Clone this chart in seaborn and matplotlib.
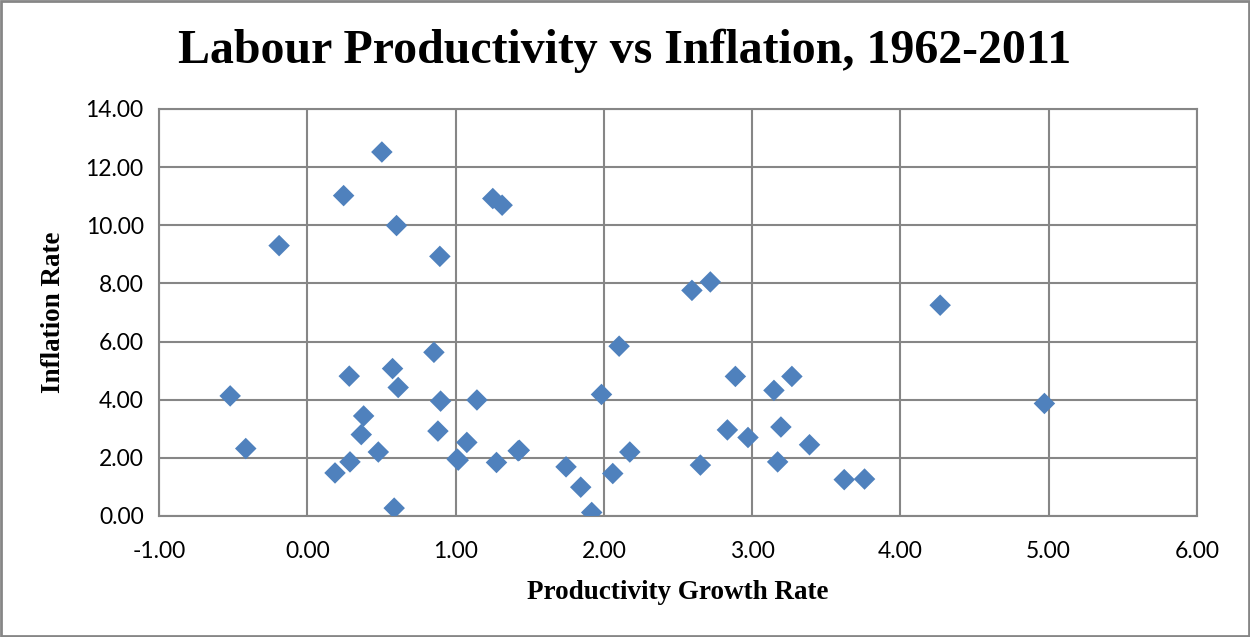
import pandas as pd
import matplotlib
matplotlib.use("Agg")
import matplotlib.pyplot as plt
import seaborn as sns

# productivity growth rate vs inflation rate
productivity = [-0.52, -0.415, -0.19, 0.503, 0.245, 0.602, 0.894, 0.854, 0.575, 0.283,
                0.613, 0.899, 1.144, 0.38, 0.881, 0.364, 1.076, 0.479, 1.018, 1.01,
                0.288, 0.187, 0.586, 1.251, 1.314, 1.276, 1.422, 1.43, 1.745, 1.844,
                1.918, 1.984, 2.103, 2.06, 2.175, 2.594, 2.718, 2.651, 2.887, 2.833,
                2.972, 3.147, 3.268, 3.194, 3.387, 3.172, 3.621, 3.758, 4.268, 4.971]
inflation = [4.13, 2.32, 9.30, 12.52, 11.02, 9.99, 8.93, 5.63, 5.07, 4.81,
             4.42, 3.95, 3.99, 3.44, 2.92, 2.80, 2.53, 2.20, 1.92, 1.96,
             1.86, 1.48, 0.27, 10.92, 10.69, 1.84, 2.24, 2.26, 1.69, 0.99,
             0.12, 4.18, 5.84, 1.46, 2.20, 7.76, 8.05, 1.75, 4.80, 2.96,
             2.70, 4.32, 4.80, 3.06, 2.45, 1.86, 1.25, 1.27, 7.25, 3.87]

x_ticks = [-1, 0, 1, 2, 3, 4, 5, 6]
y_ticks = [0, 2, 4, 6, 8, 10, 12, 14]

df = pd.DataFrame({"Productivity": productivity, "Inflation": inflation})

sns.set_style("white")
plt.rcParams["text.color"] = "black"
plt.rcParams["axes.labelcolor"] = "black"
plt.rcParams["xtick.color"] = "black"
plt.rcParams["ytick.color"] = "black"
grid_col = "#868686"

fig = plt.figure(figsize=(12.5, 6.37), dpi=100)
ax = fig.add_axes([0.1272, 0.19, 0.8304, 0.6389])

sns.scatterplot(data=df, x="Productivity", y="Inflation", ax=ax, marker="D",
                s=120, color="#4F81BD", edgecolor="none", zorder=3, legend=False)

ax.set_xlim(-1, 6)
ax.set_ylim(0, 14)
ax.set_xticks(x_ticks)
ax.set_yticks(y_ticks)
ax.set_xticklabels([f"{v:.2f}" for v in x_ticks], fontfamily="Lato", fontsize=16.5)
ax.set_yticklabels([f"{v:.2f}" for v in y_ticks], fontfamily="Lato", fontsize=16.5)
ax.tick_params(axis="x", length=0, pad=18)
ax.tick_params(axis="y", length=0, pad=11)

ax.grid(True, color=grid_col, linewidth=1.5)
ax.set_axisbelow(True)
for sp in ax.spines.values():
    sp.set_color(grid_col)
    sp.set_linewidth(1.5)

ax.set_xlabel("Productivity Growth Rate", fontfamily="Liberation Serif",
              fontweight="bold", fontsize=19.5, labelpad=13)
ax.set_ylabel("Inflation Rate", fontfamily="Liberation Serif",
              fontweight="bold", fontsize=19.5, labelpad=14)

fig.suptitle("Labour Productivity vs Inflation, 1962-2011", fontfamily="Liberation Serif",
             fontweight="bold", fontsize=34.5, x=0.5, y=0.955)

# grey frame round the whole chart
fig.patches.append(plt.Rectangle((0.001, 0.002), 0.998, 0.996, transform=fig.transFigure,
                                 fill=False, edgecolor=grid_col, linewidth=2))

fig.savefig("out.png", dpi=100)
